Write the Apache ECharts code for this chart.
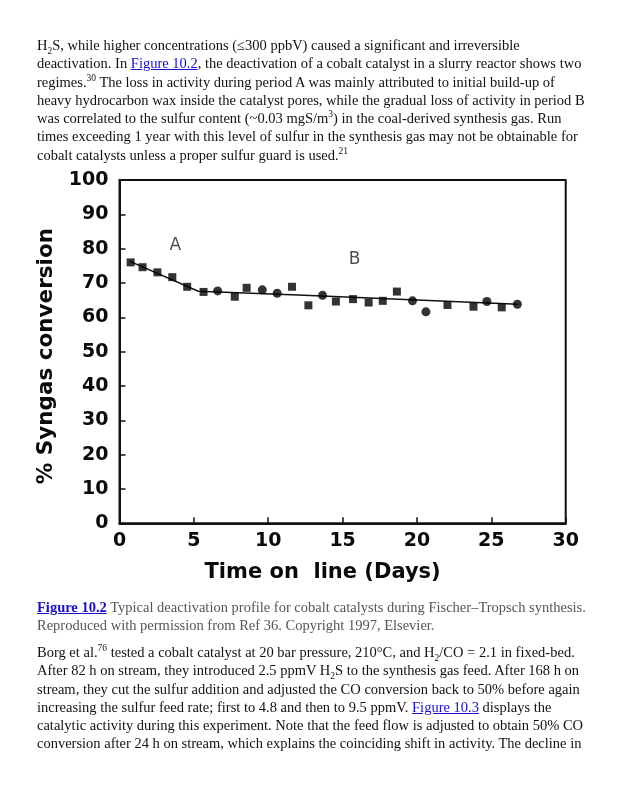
<!DOCTYPE html>
<html>
<head>
<meta charset="utf-8">
<script src="https://cdn.jsdelivr.net/npm/echarts@6/dist/echarts.min.js"></script>
<style>
  html, body { margin: 0; padding: 0; background: #fff; }
  body { width: 617px; height: 800px; position: relative; overflow: hidden; }
  #chart { position: absolute; left: 0; top: 0; width: 617px; height: 800px; }
  .txt { position: absolute; left: 37px; width: 575px; font-family: "Liberation Serif", "Times New Roman", serif;
         font-size: 14.5px; line-height: 18.3px; color: #111; white-space: nowrap; }
  .txt a { color: #1a0dcc; text-decoration: underline; }
  .txt sub, .txt sup { font-size: 9.5px; line-height: 0; }
  .cap { color: #555; }
  .cap a { font-weight: bold; }
</style>
</head>
<body>
<div id="chart"></div>
<div class="txt" style="top:36px;">
H<sub>2</sub>S, while higher concentrations (≤300 ppbV) caused a significant and irreversible<br>
deactivation. In <a>Figure 10.2</a>, the deactivation of a cobalt catalyst in a slurry reactor shows two<br>
regimes.<sup>30</sup> The loss in activity during period A was mainly attributed to initial build-up of<br>
heavy hydrocarbon wax inside the catalyst pores, while the gradual loss of activity in period B<br>
was correlated to the sulfur content (~0.03 mgS/m<sup>3</sup>) in the coal-derived synthesis gas. Run<br>
times exceeding 1 year with this level of sulfur in the synthesis gas may not be obtainable for<br>
cobalt catalysts unless a proper sulfur guard is used.<sup>21</sup>
</div>
<div class="txt cap" style="top:598px;">
<a>Figure 10.2</a> Typical deactivation profile for cobalt catalysts during Fischer–Tropsch synthesis.<br>
Reproduced with permission from Ref 36. Copyright 1997, Elsevier.
</div>
<div class="txt" style="top:643px;">
Borg et al.<sup>76</sup> tested a cobalt catalyst at 20 bar pressure, 210°C, and H<sub>2</sub>/CO = 2.1 in fixed-bed.<br>
After 82 h on stream, they introduced 2.5 ppmV H<sub>2</sub>S to the synthesis gas feed. After 168 h on<br>
stream, they cut the sulfur addition and adjusted the CO conversion back to 50% before again<br>
increasing the sulfur feed rate; first to 4.8 and then to 9.5 ppmV. <a>Figure 10.3</a> displays the<br>
catalytic activity during this experiment. Note that the feed flow is adjusted to obtain 50% CO<br>
conversion after 24 h on stream, which explains the coinciding shift in activity. The decline in
</div>
<script>
// Data (Time on line in days, % syngas conversion)
const squarePoints = [
  [0.75, 76.0], [1.55, 74.6], [2.55, 73.1], [3.55, 71.7], [4.55, 68.9], [5.65, 67.4],
  [7.75, 66.0], [8.55, 68.6], [11.6, 68.9], [12.7, 63.5], [14.55, 64.6], [15.7, 65.3],
  [16.75, 64.3], [17.7, 64.8], [18.65, 67.5], [22.05, 63.6], [23.8, 63.1], [25.7, 62.9]
];
const circlePoints = [
  [6.6, 67.7], [9.6, 68.0], [10.6, 67.0], [13.65, 66.4], [19.7, 64.8], [20.6, 61.6],
  [24.7, 64.6], [26.75, 63.8]
];
const trendLine = [[0.7, 76.3], [5.3, 67.6], [12, 66.5], [26.8, 63.8]];
const regionLabels = [
  { text: 'A', x: 3.75, y: 81 },
  { text: 'B', x: 15.8, y: 76.7 }
];
const xTicks = { min: 0, max: 30, interval: 5 };
const yTicks = { min: 0, max: 100, interval: 10 };
const xTitle = 'Time on  line (Days)';
const yTitle = '% Syngas conversion';

const axisFont = { fontFamily: 'DejaVu Sans', fontWeight: 'bold', fontSize: 19, color: '#0a0a0a' };
const chart = echarts.init(document.getElementById('chart'), null, { renderer: 'canvas' });
chart.setOption({
  animation: false,
  grid: { left: 119.5, right: 51.3, top: 180, bottom: 276.7, show: true, borderColor: '#111', borderWidth: 2 },
  xAxis: {
    type: 'value', min: xTicks.min, max: xTicks.max, interval: xTicks.interval,
    name: xTitle, nameLocation: 'middle', nameGap: 39,
    nameTextStyle: { fontFamily: 'DejaVu Sans', fontWeight: 'bold', fontSize: 21, color: '#0a0a0a', padding: [0, 40, 0, 0] },
    axisLine: { lineStyle: { color: '#111', width: 2 } },
    axisTick: { inside: true, length: 6, lineStyle: { color: '#111', width: 1.5 } },
    axisLabel: Object.assign({ margin: 8 }, axisFont),
    splitLine: { show: false }
  },
  yAxis: {
    type: 'value', min: yTicks.min, max: yTicks.max, interval: yTicks.interval,
    name: yTitle, nameLocation: 'middle', nameGap: 62, nameRotate: 90,
    nameTextStyle: { fontFamily: 'DejaVu Sans', fontWeight: 'bold', fontSize: 21.5, color: '#0a0a0a', padding: [0, 9, 0, 0] },
    axisLine: { lineStyle: { color: '#111', width: 2 } },
    axisTick: { inside: true, length: 6, lineStyle: { color: '#111', width: 1.5 } },
    axisLabel: Object.assign({ margin: 11 }, axisFont),
    splitLine: { show: false }
  },
  series: [
    { type: 'line', data: trendLine, showSymbol: false, symbol: 'none',
      lineStyle: { color: '#111', width: 1.5 }, z: 1 },
    { type: 'scatter', data: squarePoints, symbol: 'rect', symbolSize: 8, itemStyle: { color: '#000' }, z: 2 },
    { type: 'scatter', data: circlePoints, symbol: 'circle', symbolSize: 9, itemStyle: { color: '#000' }, z: 2 },
    { type: 'scatter', data: regionLabels.map(d => ({ value: [d.x, d.y], name: d.text })),
      symbolSize: 0, silent: true, z: 3,
      label: { show: true, position: 'inside', formatter: p => p.name,
        fontFamily: 'DejaVu Sans', fontSize: 17, color: '#222' } }
  ]
});
</script>
</body>
</html>
